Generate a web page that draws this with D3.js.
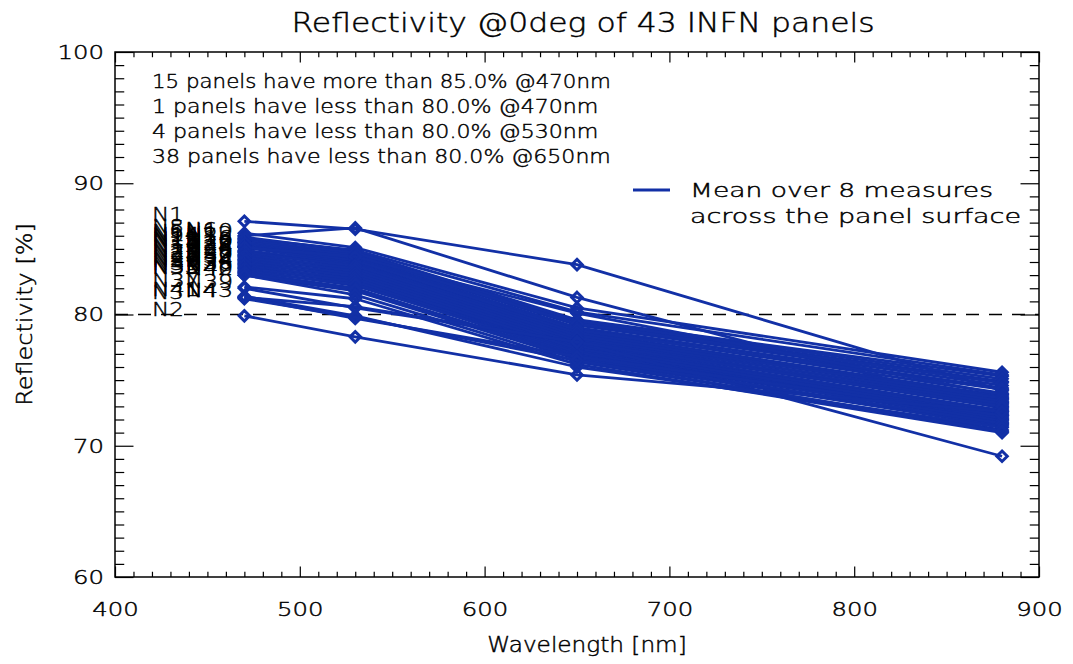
<!DOCTYPE html>
<html>
<head>
<meta charset="utf-8">
<script src="https://cdn.jsdelivr.net/npm/d3@7"></script>
<style>
  html, body { margin: 0; padding: 0; background: #fff; }
  svg { display: block; }
  text { font-family: "DejaVu Sans", sans-serif; font-weight: 200; fill: #000;
         stroke: #000; stroke-width: 0.45px; }
</style>
</head>
<body>
<svg id="chart" width="1073" height="664"></svg>
<script>
// Measured wavelengths [nm]
const wavelengths = [470, 530, 650, 880];

// Panel identifiers
const panelNames = [
  "N1","N6","N8","N10","N5","N12","N14","N7","N9","N16","N11",
  "N18","N13","N20","N15","N22","N17","N24","N19","N26","N21","N28",
  "N23","N30","N25","N32","N27","N34","N29","N36","N31","N38","N33",
  "N40","N35","N42","N37","N39","N41","N43","N3","N4","N2"
];

// Mean reflectivity [%] of each panel at each wavelength
const refl470 = [87.1,86.0,86.2,85.9,85.8,85.7,85.6,85.5,85.5,85.4,85.3,
                 85.2,85.2,85.1,85.1,84.9,84.8,84.7,84.6,84.5,84.4,84.3,
                 84.2,84.1,84.0,83.9,83.8,83.7,83.6,83.5,83.4,83.3,83.2,
                 83.0,83.1,83.0,82.1,82.0,81.4,81.3,81.2,81.3,79.9];
const refl530 = [86.5,86.6,85.1,84.8,84.9,84.6,84.7,84.4,84.5,84.3,84.2,
                 84.0,84.1,83.9,84.4,83.8,83.6,83.7,83.4,83.5,83.2,83.3,
                 83.0,83.1,82.8,82.9,82.6,82.7,82.4,82.5,82.2,82.3,82.0,
                 81.8,81.9,81.5,81.2,80.5,79.9,79.7,79.8,80.6,78.3];
const refl650 = [83.8,81.3,80.5,79.6,80.2,79.4,79.5,79.2,79.3,79.0,78.9,
                 78.7,78.8,78.5,80.1,78.6,78.3,78.4,78.1,78.2,77.9,78.0,
                 77.7,77.8,77.5,77.6,77.3,77.4,77.2,77.0,77.1,76.9,76.8,
                 76.6,76.7,76.4,76.2,77.9,76.0,76.8,76.5,77.9,75.4];
const refl880 = [74.2,72.8,75.6,75.3,75.4,74.9,75.1,74.6,74.8,74.4,74.0,
                 73.8,74.3,73.5,73.9,73.7,73.3,73.6,73.1,73.4,72.9,73.2,
                 72.7,72.6,72.4,72.5,72.2,72.3,72.0,72.1,71.8,71.9,71.6,
                 71.5,71.7,71.2,71.0,69.2,71.4,72.3,71.1,73.0,72.6];

// Axis ticks
const xMajorTicks = [400, 500, 600, 700, 800, 900];
const yMajorTicks = [60, 70, 80, 90, 100];

// Summary lines printed in the upper-left corner
const summaryLines = [
  "15 panels have more than 85.0% @470nm",
  "1 panels have less than 80.0% @470nm",
  "4 panels have less than 80.0% @530nm",
  "38 panels have less than 80.0% @650nm"
];
const legendLines = ["Mean over 8 measures", "across the panel surface"];
const threshold = 80;

// Stroke-font look: fixed advance per character (px)
const CHAR_W = { title: 16.2, body: 12.4, tick: 15.5, axisTitle: 13.3, name: 16 };
const legendWidths = [303, 331];

const BLUE = "#1230a6";
const margin = { top: 52, right: 34, bottom: 87, left: 115 };
const W = 1073, H = 664;
const w = W - margin.left - margin.right;
const h = H - margin.top - margin.bottom;

function fitText(sel, perChar) {
  sel.each(function () {
    const t = d3.select(this);
    const n = t.text().length;
    if (n) t.attr("textLength", n * perChar).attr("lengthAdjust", "spacingAndGlyphs");
  });
}

const svg = d3.select("#chart");
const g = svg.append("g").attr("transform", `translate(${margin.left},${margin.top})`);

const x = d3.scaleLinear().domain([400, 900]).range([0, w]);
const y = d3.scaleLinear().domain([60, 100]).range([h, 0]);

const xMinor = d3.range(400, 901, 10).filter(v => !xMajorTicks.includes(v));
const yMinor = d3.range(60, 101, 1).filter(v => !yMajorTicks.includes(v));

const xLen = 0.02 * h, yLen = 0.02 * w;

function styleAxis(sel) {
  sel.select(".domain").remove();
  sel.selectAll("line").attr("stroke", "#000").attr("stroke-width", 1.2);
  sel.selectAll("text").style("font-size", "20px").attr("fill", "#000")
    .call(fitText, CHAR_W.tick);
}

// bottom
g.append("g").attr("transform", `translate(0,${h})`)
  .call(d3.axisBottom(x).tickValues(xMajorTicks).tickFormat(d3.format("d"))
    .tickSizeInner(-xLen).tickSizeOuter(0).tickPadding(25)).call(styleAxis);
g.append("g").attr("transform", `translate(0,${h})`)
  .call(d3.axisBottom(x).tickValues(xMinor).tickFormat("")
    .tickSizeInner(-xLen / 2).tickSizeOuter(0)).call(styleAxis);
// top
g.append("g")
  .call(d3.axisTop(x).tickValues(xMajorTicks).tickFormat("")
    .tickSizeInner(-xLen).tickSizeOuter(0)).call(styleAxis);
g.append("g")
  .call(d3.axisTop(x).tickValues(xMinor).tickFormat("")
    .tickSizeInner(-xLen / 2).tickSizeOuter(0)).call(styleAxis);
// left
g.append("g")
  .call(d3.axisLeft(y).tickValues(yMajorTicks).tickFormat(d3.format("d"))
    .tickSizeInner(-yLen).tickSizeOuter(0).tickPadding(11)).call(styleAxis);
g.append("g")
  .call(d3.axisLeft(y).tickValues(yMinor).tickFormat("")
    .tickSizeInner(-yLen / 2).tickSizeOuter(0)).call(styleAxis);
// right
g.append("g").attr("transform", `translate(${w},0)`)
  .call(d3.axisRight(y).tickValues(yMajorTicks).tickFormat("")
    .tickSizeInner(-yLen).tickSizeOuter(0)).call(styleAxis);
g.append("g").attr("transform", `translate(${w},0)`)
  .call(d3.axisRight(y).tickValues(yMinor).tickFormat("")
    .tickSizeInner(-yLen / 2).tickSizeOuter(0)).call(styleAxis);

// plot frame
g.append("rect").attr("width", w).attr("height", h)
  .attr("fill", "none").attr("stroke", "#000").attr("stroke-width", 1.5);

// 80% threshold
g.append("line")
  .attr("x1", x(400)).attr("x2", x(900))
  .attr("y1", y(threshold)).attr("y2", y(threshold))
  .attr("stroke", "#000").attr("stroke-width", 1.3)
  .attr("stroke-dasharray", "13,10");

// panels
const panels = panelNames.map((name, i) => ({
  name,
  values: [refl470[i], refl530[i], refl650[i], refl880[i]]
}));

const line = d3.line().x((d, j) => x(wavelengths[j])).y(d => y(d));
const diamond = d3.symbol().type(d3.symbolDiamond2).size(70);

const pg = g.append("g");
panels.forEach(p => {
  pg.append("path").attr("d", line(p.values))
    .attr("fill", "none").attr("stroke", BLUE).attr("stroke-width", 2.8)
    .attr("stroke-linejoin", "round");
  pg.selectAll(null).data(p.values).enter().append("path")
    .attr("d", diamond)
    .attr("transform", (d, j) => `translate(${x(wavelengths[j])},${y(d)})`)
    .attr("fill", "none").attr("stroke", BLUE).attr("stroke-width", 3);
});

// panel names beside the 470 nm points
g.append("g").selectAll("text").data(panels).enter().append("text")
  .attr("x", (d, i) => x(i % 2 === 0 ? 420 : 438))
  .attr("y", d => y(d.values[0]))
  .style("font-size", "20px")
  .text(d => d.name)
  .call(fitText, CHAR_W.name);

// summary text
g.append("g").selectAll("text").data(summaryLines).enter().append("text")
  .attr("x", 152 - margin.left)
  .attr("y", (d, i) => 88 - margin.top + i * 25)
  .style("font-size", "20px")
  .text(d => d)
  .call(fitText, CHAR_W.body);

// legend
g.append("line").attr("x1", 633 - margin.left).attr("x2", 670 - margin.left)
  .attr("y1", 190 - margin.top).attr("y2", 190 - margin.top)
  .attr("stroke", BLUE).attr("stroke-width", 3);
g.append("g").selectAll("text").data(legendLines).enter().append("text")
  .attr("x", 690 - margin.left)
  .attr("y", (d, i) => 197 - margin.top + i * 26)
  .attr("textLength", (d, i) => legendWidths[i])
  .attr("lengthAdjust", "spacingAndGlyphs")
  .style("font-size", "20px")
  .text(d => d);

// titles
svg.append("text").attr("x", margin.left + w / 2 + 6).attr("y", 32)
  .attr("text-anchor", "middle").style("font-size", "26px")
  .text("Reflectivity @0deg of 43 INFN panels")
  .call(fitText, CHAR_W.title);
svg.append("text").attr("x", margin.left + w / 2 + 10).attr("y", 652)
  .attr("text-anchor", "middle").style("font-size", "21px")
  .text("Wavelength [nm]")
  .call(fitText, CHAR_W.axisTitle);
svg.append("text")
  .attr("transform", `translate(32,${margin.top + h / 2}) rotate(-90)`)
  .attr("text-anchor", "middle").style("font-size", "21px")
  .text("Reflectivity [%]")
  .call(fitText, 11.4);
</script>
</body>
</html>
